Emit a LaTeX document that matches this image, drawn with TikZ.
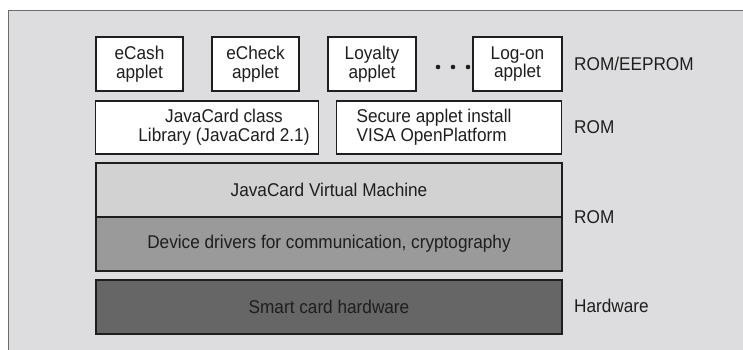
\documentclass[tikz,border=0pt]{standalone}
\usepackage{fontspec}
\setmainfont[FakeStretch=0.93]{Liberation Sans}
\definecolor{panel}{HTML}{DDDDDF}
\definecolor{vmgray}{HTML}{D2D2D2}
\definecolor{drvgray}{HTML}{9A9A9A}
\definecolor{hwgray}{HTML}{666666}
\definecolor{ink}{HTML}{1E1E1E}
\tikzset{
  txt/.style={font=\fontsize{18.5}{18.5}\selectfont, text=ink},
  applet/.style={txt, draw=ink, line width=1.6pt, fill=white, inner sep=0pt,
    minimum width=87pt, minimum height=54pt, align=center},
  layer/.style={draw=ink, line width=1.6pt, inner sep=0pt,
    minimum width=466pt, minimum height=54pt},
  tag/.style={txt, anchor=west, inner sep=0pt}
}
\begin{document}
\begin{tikzpicture}[x=1pt,y=-1pt]
    \useasboundingbox (0,0) rectangle (743,350);
    % grey panel behind the stack
    \fill[panel] (8,10) rectangle (743,350);
    \draw[gray!85!black, line width=0.8pt] (743,10) -- (8,10) -- (8,350);
    % applets
    \node[applet] (ecash) at (139.5,64) {eCash\\applet};
    \node[applet] (echeck) at (255.5,64) {eCheck\\applet};
    \node[applet, minimum width=88pt] (loyalty) at (372,64) {Loyalty\\applet};
    \node[applet, minimum width=89pt] (logon) at (517.5,64) {Log-on\\applet};
    \foreach \x/\n in {438/a,453/b,468/c}
      \fill[ink] (\x,67) circle (2.3pt) coordinate (dot\n);
    % libraries
    \node[applet, minimum width=223pt, minimum height=53pt] (classlib) at (207,127.5) {};
    \node[txt, align=center] (classtxt) at (224,127) {JavaCard class\\Library (JavaCard 2.1)};
    \node[applet, minimum width=225pt, minimum height=53pt] (install) at (449,127.5) {};
    \node[txt, align=left] (installtxt) at (434,127) {Secure applet install\\VISA OpenPlatform};
    % runtime and hardware
    \node[layer, fill=vmgray] (jvm) at (329,190) {};
    \node[txt] (jvmtxt) at (jvm) {JavaCard Virtual Machine};
    \node[layer, fill=drvgray] (drivers) at (329,244) {};
    \node[txt] (drvtxt) at (drivers) {Device drivers for communication, cryptography};
    \node[layer, fill=hwgray] (hw) at (329,307) {};
    \node[txt] (hwtxt) at (hw) {Smart card hardware};
    % memory tags
    \node[tag] (tagapp) at (574,64) {ROM/EEPROM};
    \node[tag] (taglib) at (574,127) {ROM};
    \node[tag] (tagvm) at (574,217) {ROM};
    \node[tag] (taghw) at (574,306) {Hardware};
\end{tikzpicture}
\end{document}
